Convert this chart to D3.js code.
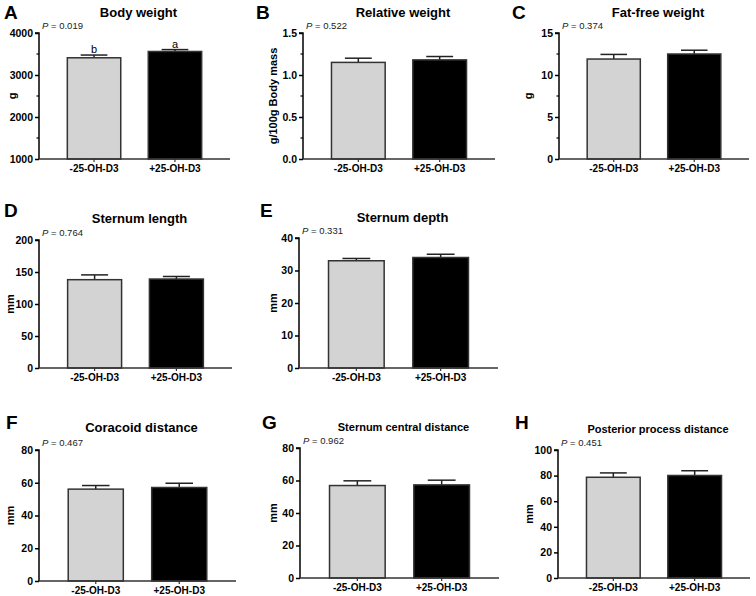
<!DOCTYPE html>
<html><head><meta charset="utf-8">
<script src="https://cdn.jsdelivr.net/npm/d3@7"></script>
<style>
html,body{margin:0;padding:0;background:#fff;}
svg{display:block;font-family:"Liberation Sans",Arial,sans-serif;}
</style></head>
<body>
<svg id="chart" width="756" height="596"></svg>
<script>
// ---- data ----
const categories = ["-25-OH-D3", "+25-OH-D3"];
const panelLetters = ["A","B","C","D","E","F","G","H"];
const panelTitles = ["Body weight","Relative weight","Fat-free weight","Sternum length","Sternum depth","Coracoid distance","Sternum central distance","Posterior process distance"];
const yLabels = ["g","g/100g Body mass","g","mm","mm","mm","mm","mm"];
const pValues = ["0.019","0.522","0.374","0.764","0.331","0.467","0.962","0.451"];
const meanControl = [3410, 1.15, 11.9, 138, 33.0, 56.1, 56.9, 78.7];
const semControl  = [65, 0.05, 0.55, 7.5, 0.7, 2.2, 2.9, 3.4];
const meanTreated = [3560, 1.18, 12.5, 139, 34.0, 57.1, 57.3, 80.1];
const semTreated  = [45, 0.04, 0.45, 4.0, 1.0, 2.6, 2.9, 3.7];
const yDomains = [[1000,4000],[0,1.5],[0,15],[0,200],[0,40],[0,80],[0,80],[0,100]];
const yTickValues = [[1000,2000,3000,4000],[0,0.5,1.0,1.5],[0,5,10,15],[0,50,100,150,200],[0,10,20,30,40],[0,20,40,60,80],[0,20,40,60,80],[0,20,40,60,80,100]];
const yMinorTicks = [[1500,2500,3500],[0.25,0.75,1.25],[2.5,7.5,12.5],[],[],[],[],[]];
const sigLetters = [["b","a"],null,null,null,null,null,null,null];

// ---- layout (positions only) ----
const layout = [
  {l:39,  r:230, t:33,  b:159, letterX:4,   letterY:19,  titleY:17,  ylabX:16},
  {l:303, r:495, t:33,  b:159, letterX:256, letterY:19,  titleY:17,  ylabX:277},
  {l:559, r:749, t:33,  b:159, letterX:512, letterY:19,  titleY:17,  ylabX:532},
  {l:39,  r:232, t:240, b:368, letterX:4,   letterY:217, titleY:223, ylabX:14},
  {l:299, r:498, t:238, b:368, letterX:260, letterY:217, titleY:222, ylabX:277},
  {l:39,  r:236, t:450, b:581, letterX:6,   letterY:429, titleY:432, ylabX:14},
  {l:300, r:499, t:448, b:578, letterX:262, letterY:429, titleY:431, ylabX:277},
  {l:558, r:750, t:450, b:578, letterX:515, letterY:429, titleY:433, ylabX:533}
];
const titleSizes = [13,13,13,13,13,13,11,11];
const barFills = ["#d3d3d3", "#000000"];

const svg = d3.select("#chart");

panelLetters.forEach((letter, i) => {
  const L = layout[i];
  const g = svg.append("g");
  const x = d3.scaleBand().domain(categories).range([L.l, L.r]).paddingInner(0.34).paddingOuter(0.35);
  const y = d3.scaleLinear().domain(yDomains[i]).range([L.b, L.t]);
  const means = [meanControl[i], meanTreated[i]];
  const sems = [semControl[i], semTreated[i]];

  g.append("text").attr("x", L.letterX).attr("y", L.letterY)
    .attr("font-size", 19).attr("font-weight", "bold").attr("fill", "#000").text(letter);
  g.append("text").attr("x", (L.l + L.r) / 2 + 4).attr("y", L.titleY)
    .attr("text-anchor", "middle").attr("font-size", titleSizes[i]).attr("font-weight", "bold").attr("fill", "#000").text(panelTitles[i]);

  categories.forEach((c, j) => {
    const cx = x(c) + x.bandwidth() / 2;
    const capW = x.bandwidth() / 2;
    g.append("line").attr("x1", cx).attr("x2", cx).attr("y1", y(means[j])).attr("y2", y(means[j] + sems[j]))
      .attr("stroke", "#222").attr("stroke-width", 1.5);
    g.append("line").attr("x1", cx - capW / 2).attr("x2", cx + capW / 2)
      .attr("y1", y(means[j] + sems[j])).attr("y2", y(means[j] + sems[j]))
      .attr("stroke", "#222").attr("stroke-width", 1.5);
  });

  g.selectAll("rect.bar").data(categories).enter().append("rect")
    .attr("x", c => x(c)).attr("width", x.bandwidth())
    .attr("y", (c, j) => y(means[j])).attr("height", (c, j) => L.b - y(means[j]))
    .attr("fill", (c, j) => barFills[j]).attr("stroke", "#333").attr("stroke-width", 1.5);

  if (sigLetters[i]) {
    categories.forEach((c, j) => {
      g.append("text").attr("x", x(c) + x.bandwidth() / 2).attr("y", y(means[j] + sems[j]) - 2)
        .attr("text-anchor", "middle").attr("font-size", 11).attr("fill", "#000").text(sigLetters[i][j]);
    });
  }

  const yAxis = d3.axisLeft(y).tickValues(yTickValues[i]).tickSize(4).tickPadding(2)
    .tickFormat(yDomains[i][1] <= 2 ? d3.format(".1f") : d3.format("d"));
  const ya = g.append("g").attr("transform", `translate(${L.l},0)`).call(yAxis);
  ya.select(".domain").attr("stroke", "#000").attr("stroke-width", 1.5).attr("d", `M-4,${L.t}H0V${L.b}`);
  ya.selectAll(".tick line").attr("stroke", "#000").attr("stroke-width", 1.5);
  ya.selectAll(".tick text").attr("font-size", 10.5).attr("font-weight", "bold").attr("fill", "#000")
    .attr("font-family", "Liberation Sans, Arial, sans-serif");
  ya.selectAll("line.minor").data(yMinorTicks[i]).enter().append("line").attr("class", "minor")
    .attr("x1", -2.5).attr("x2", 0).attr("y1", d => y(d)).attr("y2", d => y(d))
    .attr("stroke", "#000").attr("stroke-width", 1.2);

  const xAxis = d3.axisBottom(x).tickSize(3).tickPadding(3).tickSizeOuter(0);
  const xa = g.append("g").attr("transform", `translate(0,${L.b})`).call(xAxis);
  xa.select(".domain").attr("stroke", "#333").attr("stroke-width", 1.5).attr("d", `M${L.l},0H${L.r}`);
  xa.selectAll(".tick line").attr("stroke", "#333").attr("stroke-width", 1.2);
  xa.selectAll(".tick text").attr("font-size", 10).attr("font-weight", "bold").attr("fill", "#000")
    .attr("font-family", "Liberation Sans, Arial, sans-serif");

  g.append("text").attr("transform", `translate(${L.ylabX},${(L.t + L.b) / 2}) rotate(-90)`)
    .attr("text-anchor", "middle").attr("font-size", 11).attr("font-weight", "bold").attr("fill", "#000").text(yLabels[i]);

  const pt = g.append("text").attr("x", L.l + 3).attr("y", L.t - 4).attr("font-size", 9.5).attr("fill", "#222");
  pt.append("tspan").attr("font-style", "italic").text("P");
  pt.append("tspan").text(" = " + pValues[i]);
});
</script>
</body></html>
